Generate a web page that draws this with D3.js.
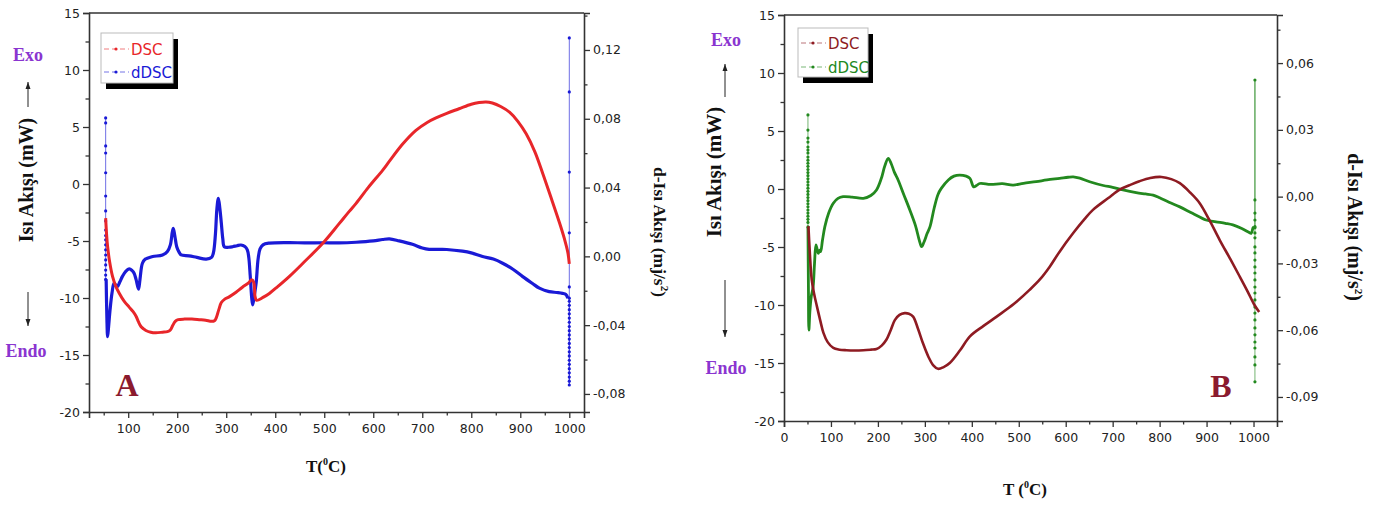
<!DOCTYPE html>
<html><head><meta charset="utf-8">
<script src="https://cdn.jsdelivr.net/npm/d3@7"></script>
<style>body{margin:0;background:#fff} svg{display:block}</style>
</head><body>
<svg id="c" width="1389" height="505"></svg>
<script>
// ---------- Panel A data ----------
const A_dsc_T = [54,56,58,62,68,75,82,92,102,110,116,121,126,131,136,146,156,170,180,186,191,196,202,215,230,245,258,270,276,280,285,290,297,306,320,333,345,352,356,359,362,375,388,405,429,460,497,530,551,565,590,619,633,660,687,710,728,750,775,800,816,830,843,860,878,895,912,930,946,962,980,990,997,1000];
const A_dsc_V = [-3.0,-4.5,-5.5,-6.8,-8.1,-9.0,-9.6,-10.3,-10.8,-11.2,-11.6,-12.1,-12.5,-12.7,-12.85,-13.0,-13.05,-13.0,-12.95,-12.8,-12.4,-12.05,-11.9,-11.85,-11.85,-11.9,-11.95,-12.05,-12.0,-11.7,-11.0,-10.4,-10.1,-9.9,-9.5,-9.05,-8.7,-8.4,-8.6,-9.9,-10.2,-9.95,-9.6,-9.0,-8.1,-6.8,-5.2,-3.5,-2.4,-1.7,-0.3,1.2,2.0,3.5,4.7,5.4,5.8,6.2,6.6,7.0,7.15,7.2,7.1,6.8,6.3,5.5,4.4,2.8,0.9,-1.1,-3.4,-4.8,-6.0,-7.0];

const A_ddsc_T = [55,56.5,58,60,63,67,71,75,78,83,88,95,102,108,112,116,121,124,129,135,139,150,170,180,186,190,192,195,199,204,208,224,240,259,270,274,278,281,284,287,290,293,296,305,313,322,330,338,343,346,349,352,354,357,361,365,369,375,388,429,460,497,530,565,600,619,633,653,680,700,714,750,782,800,823,845,864,885,905,925,939,959,975,986,993,997];
const A_ddsc_V = [-0.0134,-0.0359,-0.0467,-0.0408,-0.0310,-0.0212,-0.0156,-0.0168,-0.0176,-0.0148,-0.0118,-0.0087,-0.0073,-0.0083,-0.0098,-0.0134,-0.0191,-0.0134,-0.0040,-0.0016,-0.0011,-0.0001,0.0008,0.0028,0.0067,0.0141,0.0163,0.0121,0.0056,0.0023,0.0008,0.0003,-0.0006,-0.0016,-0.0006,0.0023,0.0131,0.0278,0.0338,0.0278,0.0193,0.0102,0.0056,0.0053,0.0056,0.0062,0.0066,0.0057,0.0038,-0.0006,-0.0114,-0.0241,-0.0282,-0.0232,-0.0156,-0.0016,0.0043,0.0067,0.0077,0.0080,0.0078,0.0079,0.0078,0.0082,0.0090,0.0098,0.0102,0.0090,0.0070,0.0049,0.0041,0.0040,0.0030,0.0020,-0.0001,-0.0016,-0.0040,-0.0075,-0.0118,-0.0158,-0.0185,-0.0205,-0.0210,-0.0215,-0.0222,-0.0243];

const A_spikeStart_T = 54;
const A_spikeStart_V = [0.0805,0.0776,0.0642,0.0601,0.0486,0.0351,0.0264,0.0206,0.0153,0.0121,0.0096,0.0067,0.0038,0.0008,-0.0021,-0.0050,-0.0080,-0.0109,-0.0134];
const A_spikeEnd_T = 1000;
const A_spikeEnd_V = [-0.0243,-0.0261,-0.0285,-0.0310,-0.0334,-0.0359,-0.0383,-0.0408,-0.0432,-0.0457,-0.0481,-0.0506,-0.0530,-0.0555,-0.0579,-0.0604,-0.0628,-0.0653,-0.0677,-0.0702,-0.0726,-0.0748,-0.0178,0.0137,0.0490,0.0956,0.1270];

// ---------- Panel B data ----------
const B_dsc_T = [52,55,59,64,70,77,84,93,105,118,133,150,169,185,197,208,218,227,236,246,257,266,275,285,296,308,318,328,340,353,375,396,425,453,490,523,545,566,587,616,640,658,690,715,740,757,780,804,825,843,865,885,905,928,950,970,987,1002,1012];
const B_dsc_V = [-3.2,-5.5,-7.8,-9.0,-10.1,-11.3,-12.4,-13.2,-13.7,-13.85,-13.9,-13.92,-13.9,-13.85,-13.8,-13.5,-13.0,-12.2,-11.3,-10.85,-10.7,-10.75,-11.0,-12.0,-13.3,-14.5,-15.2,-15.5,-15.35,-15.0,-13.9,-12.7,-11.8,-11.0,-9.9,-8.7,-7.8,-6.7,-5.4,-3.8,-2.6,-1.8,-0.8,-0.05,0.4,0.67,0.95,1.04,0.85,0.5,-0.3,-1.2,-2.6,-4.4,-6.0,-7.5,-8.8,-10.0,-10.6];

const B_ddsc_T = [51,52,53,55,58,62,65,68,71,73,76,78,82,87,95,105,115,126,145,169,185,197,207,215,222,228,235,243,255,268,280,288,293,298,305,311,320,328,335,350,362,374,388,396,404,410,417,440,465,488,510,537,560,587,605,616,630,651,680,700,722,750,770,786,800,820,843,870,899,920,940,956,975,990,995,999,1001];
const B_ddsc_V = [-0.0136,-0.040,-0.060,-0.052,-0.045,-0.0405,-0.030,-0.0217,-0.024,-0.0255,-0.0240,-0.0247,-0.0195,-0.0135,-0.0075,-0.0030,-0.0008,0.0000,-0.0002,-0.0008,0.0005,0.0030,0.0080,0.0140,0.0172,0.0150,0.0110,0.0075,0.0010,-0.0060,-0.0130,-0.0195,-0.0225,-0.0205,-0.0165,-0.0135,-0.0050,0.0010,0.0037,0.0075,0.0092,0.0097,0.0092,0.0082,0.0044,0.0050,0.0059,0.0055,0.0058,0.0052,0.0060,0.0067,0.0075,0.0082,0.0087,0.0089,0.0083,0.0067,0.0050,0.0042,0.0030,0.0018,0.0012,0.0007,-0.0005,-0.0025,-0.0046,-0.0075,-0.0105,-0.0113,-0.0120,-0.0127,-0.0143,-0.0160,-0.0165,-0.0140,-0.0135];

const B_spikeStart_T = 51;
const B_spikeStart_V = [0.0367,0.0299,0.0263,0.0245,0.0223,0.0209,0.0196,0.0178,0.0164,0.0150,0.0136,0.0122,0.0108,0.0094,0.0080,0.0066,0.0052,0.0038,0.0024,0.0010,-0.0004,-0.0018,-0.0032,-0.0046,-0.0060,-0.0074,-0.0088,-0.0102,-0.0116,-0.0136];
const B_spikeEnd_T = 1003;
const B_spikeEnd_V = [-0.0135,-0.0015,0.0524,-0.0074,-0.0105,-0.0140,-0.0163,-0.0185,-0.0226,-0.0253,-0.0285,-0.0316,-0.0343,-0.0374,-0.0406,-0.0433,-0.0464,-0.0496,-0.0523,-0.0554,-0.0590,-0.0621,-0.0653,-0.0680,-0.0720,-0.0756,-0.0832];

// ---------- ticks ----------
const A_xTicks = [100,200,300,400,500,600,700,800,900,1000];
const A_xMinor = [50,150,250,350,450,550,650,750,850,950];
const B_xTicks = [0,100,200,300,400,500,600,700,800,900,1000];
const B_xMinor = [50,150,250,350,450,550,650,750,850,950];
const leftTicks = [-20,-15,-10,-5,0,5,10,15];
const leftMinor = [-17.5,-12.5,-7.5,-2.5,2.5,7.5,12.5];
const A_rTicks = [-0.08,-0.04,0,0.04,0.08,0.12];
const A_rLabels = ["-0,08","-0,04","0,00","0,04","0,08","0,12"];
const A_rMinor = [-0.06,-0.02,0.02,0.06,0.10,0.14];
const B_rTicks = [-0.09,-0.06,-0.03,0,0.03,0.06];
const B_rLabels = ["-0,09","-0,06","-0,03","0,00","0,03","0,06"];
const B_rMinor = [-0.075,-0.045,-0.015,0.015,0.045,0.075];

const svg = d3.select("#c");
const tickFont = "DejaVu Sans, Verdana, sans-serif";
const serif = "Liberation Serif, Times New Roman, serif";
const purple = "#8A35D0";

function panel(cfg){
  const g = svg.append("g");
  const x = d3.scaleLinear().domain(cfg.xDom).range([cfg.L, cfg.R]);
  const yl = d3.scaleLinear().domain([-20,15]).range([cfg.B, cfg.T]);
  const yr = d3.scaleLinear().domain(cfg.rDom).range([cfg.B, cfg.T]);

  function styleAxis(sel){
    sel.select(".domain").attr("stroke","#333").attr("stroke-width",1.6);
    sel.selectAll(".tick line").attr("stroke","#333").attr("stroke-width",1.3);
    sel.selectAll(".tick text").attr("fill","#222").style("font-family",tickFont).style("font-size","12.5px");
  }
  const gx = g.append("g").attr("transform",`translate(0,${cfg.B})`)
    .call(d3.axisBottom(x).tickValues(cfg.xTicks).tickSize(6).tickPadding(6).tickFormat(d3.format("d")));
  styleAxis(gx);
  const gxm = g.append("g").attr("transform",`translate(0,${cfg.B})`)
    .call(d3.axisBottom(x).tickValues(cfg.xMinor).tickSize(3.5).tickFormat(""));
  styleAxis(gxm); gxm.select(".domain").remove();
  const gl = g.append("g").attr("transform",`translate(${cfg.L},0)`)
    .call(d3.axisLeft(yl).tickValues(leftTicks).tickSize(6).tickPadding(3).tickFormat(d=>d<0?"-"+Math.abs(d):String(d)));
  styleAxis(gl);
  const glm = g.append("g").attr("transform",`translate(${cfg.L},0)`)
    .call(d3.axisLeft(yl).tickValues(leftMinor).tickSize(3.5).tickFormat(""));
  styleAxis(glm); glm.select(".domain").remove();
  const gr = g.append("g").attr("transform",`translate(${cfg.R},0)`)
    .call(d3.axisRight(yr).tickValues(cfg.rTicks).tickSize(6).tickPadding(3).tickFormat((d,i)=>cfg.rLabels[i]));
  styleAxis(gr);
  const grm = g.append("g").attr("transform",`translate(${cfg.R},0)`)
    .call(d3.axisRight(yr).tickValues(cfg.rMinor.filter(v=>v>=cfg.rDom[0]&&v<=cfg.rDom[1])).tickSize(3.5).tickFormat(""));
  styleAxis(grm); grm.select(".domain").remove();
  g.append("line").attr("x1",cfg.L).attr("x2",cfg.R).attr("y1",cfg.T).attr("y2",cfg.T)
    .attr("stroke","#333").attr("stroke-width",1.6);

  const curve = d3.curveCatmullRom.alpha(0.5);
  const lineL = d3.line().x(d=>x(d[0])).y(d=>yl(d[1])).curve(curve);
  const lineR = d3.line().x(d=>x(d[0])).y(d=>yr(d[1])).curve(curve);
  const lineLin = d3.line().x(d=>x(d[0])).y(d=>yr(d[1]));

  function spike(T, vals, color){
    const pts = vals.map(v=>[T,v]);
    g.append("path").attr("d",lineLin(pts)).attr("fill","none").attr("stroke",color).attr("stroke-width",0.9).attr("opacity",0.7);
    g.selectAll(null).data(pts).enter().append("circle")
      .attr("cx",d=>x(d[0])).attr("cy",d=>yr(d[1])).attr("r",1.6).attr("fill",color);
  }
  spike(cfg.sS_T, cfg.sS_V, cfg.c2);
  spike(cfg.sE_T, cfg.sE_V, cfg.c2);

  const d2 = cfg.d2T.map((t,i)=>[t,cfg.d2V[i]]);
  g.append("path").attr("d",lineR(d2)).attr("fill","none").attr("stroke",cfg.c2).attr("stroke-width",cfg.w2).attr("stroke-linejoin","round");
  const d1 = cfg.d1T.map((t,i)=>[t,cfg.d1V[i]]);
  g.append("path").attr("d",lineL(d1)).attr("fill","none").attr("stroke",cfg.c1).attr("stroke-width",cfg.w1).attr("stroke-linejoin","round");

  const lg = cfg.leg;
  g.append("rect").attr("x",lg.x+5).attr("y",lg.y+6).attr("width",lg.w).attr("height",lg.h).attr("fill","#000");
  g.append("rect").attr("x",lg.x).attr("y",lg.y).attr("width",lg.w).attr("height",lg.h).attr("fill","#fff").attr("stroke","#bbb").attr("stroke-width",1);
  [[cfg.c1,"DSC",lg.r1],[cfg.c2,"dDSC",lg.r2]].forEach(([c,t,yy])=>{
    g.append("line").attr("x1",lg.x+3).attr("x2",lg.x+28).attr("y1",yy).attr("y2",yy)
      .attr("stroke",c).attr("stroke-width",1).attr("stroke-dasharray","5,3").attr("opacity",0.6);
    g.append("circle").attr("cx",lg.x+15).attr("cy",yy).attr("r",1.6).attr("fill",c);
    g.append("text").attr("x",lg.x+30).attr("y",yy+5.5).text(t).attr("fill",c)
      .style("font-family","DejaVu Sans, sans-serif").style("font-size","15px");
  });

  const lt = cfg.lt;
  g.append("text").attr("transform",`translate(${lt.x},${lt.y}) rotate(-90)`).attr("text-anchor","middle")
    .style("font-family",serif).style("font-weight","bold").style("font-size",lt.fs+"px").attr("fill","#111")
    .text("Isı Akışı (mW)");
  g.append("text").attr("x",lt.exoX).attr("y",lt.exoY).attr("text-anchor","middle").attr("fill",purple)
    .style("font-family",serif).style("font-weight","bold").style("font-size","18px").text("Exo");
  g.append("text").attr("x",lt.endoX).attr("y",lt.endoY).attr("text-anchor","middle").attr("fill",purple)
    .style("font-family",serif).style("font-weight","bold").style("font-size","18px").text("Endo");
  g.append("line").attr("x1",lt.ax).attr("x2",lt.ax).attr("y1",lt.up[0]).attr("y2",lt.up[1]).attr("stroke","#222").attr("stroke-width",1);
  g.append("path").attr("d",`M${lt.ax-2.5},${lt.up[1]+7}L${lt.ax},${lt.up[1]}L${lt.ax+2.5},${lt.up[1]+7}Z`).attr("fill","#222");
  g.append("line").attr("x1",lt.ax).attr("x2",lt.ax).attr("y1",lt.dn[0]).attr("y2",lt.dn[1]).attr("stroke","#222").attr("stroke-width",1);
  g.append("path").attr("d",`M${lt.ax-2.5},${lt.dn[1]-7}L${lt.ax},${lt.dn[1]}L${lt.ax+2.5},${lt.dn[1]-7}Z`).attr("fill","#222");

  const rt = g.append("text").attr("transform",`translate(${cfg.rt.x},${cfg.rt.y}) rotate(90)`).attr("text-anchor","middle")
    .style("font-family",serif).style("font-weight","bold").style("font-size",cfg.rt.fs+"px").attr("fill","#111");
  rt.append("tspan").text("d-Isı Akışı (mj/s");
  rt.append("tspan").attr("dy",-7).style("font-size","11px").text("2");
  rt.append("tspan").attr("dy",7).text(")");

  const xt = g.append("text").attr("x",cfg.xt.x).attr("y",cfg.xt.y).attr("text-anchor","middle")
    .style("font-family",serif).style("font-weight","bold").style("font-size","17px").attr("fill","#111");
  xt.append("tspan").text(cfg.xt.pre);
  xt.append("tspan").attr("dy",-7).style("font-size","10px").text("0");
  xt.append("tspan").attr("dy",7).text("C)");

  g.append("text").attr("x",cfg.letter.x).attr("y",cfg.letter.y).attr("text-anchor","middle").attr("fill","#8B1A2E")
    .style("font-family",serif).style("font-weight","bold").style("font-size","32px").text(cfg.letter.t);
}

panel({
  xDom:[20,1030], L:89, R:584, T:13, B:412, rDom:[-0.0905,0.1415],
  xTicks:A_xTicks, xMinor:A_xMinor, rTicks:A_rTicks, rLabels:A_rLabels, rMinor:A_rMinor,
  d1T:A_dsc_T, d1V:A_dsc_V, d2T:A_ddsc_T, d2V:A_ddsc_V,
  sS_T:A_spikeStart_T, sS_V:A_spikeStart_V, sE_T:A_spikeEnd_T, sE_V:A_spikeEnd_V,
  c1:"#E8262A", c2:"#1A1AD6", w1:3, w2:3.2,
  leg:{x:101,y:33,w:72,h:50,r1:49,r2:72},
  lt:{x:33,y:180,fs:20,exoX:28,exoY:61,endoX:26,endoY:357,ax:28,up:[107,82],dn:[292,326]},
  rt:{x:654,y:232,fs:17.5},
  xt:{x:326,y:472,pre:"T("},
  letter:{x:127,y:396,t:"A"}
});
panel({
  xDom:[0,1050], L:784, R:1277, T:15, B:421, rDom:[-0.1008,0.0816],
  xTicks:B_xTicks, xMinor:B_xMinor, rTicks:B_rTicks, rLabels:B_rLabels, rMinor:B_rMinor,
  d1T:B_dsc_T, d1V:B_dsc_V, d2T:B_ddsc_T, d2V:B_ddsc_V,
  sS_T:B_spikeStart_T, sS_V:B_spikeStart_V, sE_T:B_spikeEnd_T, sE_V:B_spikeEnd_V,
  c1:"#8E1B22", c2:"#23891F", w1:2.6, w2:2.8,
  leg:{x:798,y:28,w:70,h:49,r1:43,r2:67},
  lt:{x:721,y:172,fs:21,exoX:726,exoY:46,endoX:726,endoY:374,ax:725,up:[97,64],dn:[280,337]},
  rt:{x:1348,y:227,fs:20},
  xt:{x:1025,y:495,pre:"T ("},
  letter:{x:1221,y:397,t:"B"}
});
</script>
</body></html>
